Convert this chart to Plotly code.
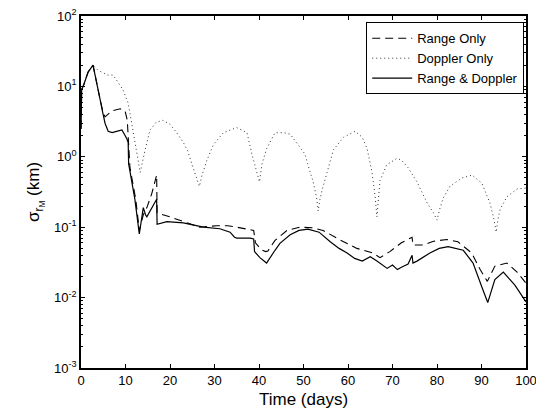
import plotly.graph_objects as go

# ---- data ----
rd_days = [0, 0.15, 0.6, 1.6, 2.7, 3.6, 4.3, 4.9, 5.4, 6.1, 7, 8, 9.2, 10.3, 10.6, 10.7, 11.4, 12.1,
           13.1, 14.0, 14.5, 14.8, 17.0, 17.1, 19.3, 23, 27.5, 31.2, 33.5, 34.5, 35, 38, 38.8, 39.0,
           40.2, 41.7, 43.6, 44.7, 47, 49, 51, 53.5, 56, 58, 59.8, 61.5, 63.2, 65, 66.5, 68.8, 70.0,
           70.6, 71.1, 72, 73.5, 74.4, 74.6, 75.5, 78.4, 80.5, 82.5, 85.9, 88.1, 90.1, 91.4, 93, 94.9,
           97.5, 100]
rd_vals = [2.5, 9, 10.5, 16, 20, 10, 6.5, 4.2, 3, 2.3, 2.2, 2.3, 2.4, 1.8, 1.6, 0.8, 0.47, 0.25,
           0.08, 0.19, 0.15, 0.14, 0.25, 0.11, 0.12, 0.115, 0.1, 0.095, 0.085, 0.072, 0.07, 0.07, 0.068, 0.045,
           0.037, 0.031, 0.047, 0.059, 0.078, 0.09, 0.094, 0.085, 0.062, 0.05, 0.043, 0.036, 0.033, 0.038, 0.033, 0.026, 0.029,
           0.027, 0.025, 0.027, 0.03, 0.04, 0.031, 0.033, 0.043, 0.05, 0.053, 0.047, 0.031, 0.014, 0.0085, 0.018, 0.023,
           0.015, 0.0087]

r_days = [0, 0.15, 0.6, 1.6, 2.7, 3.6, 4.3, 4.9, 5.4, 7, 8.8, 9.9, 10.4, 11.0, 11.6, 12.3, 13.1, 14.0,
          14.8, 15.9, 17.0, 17.1, 20, 23, 26.7, 30.5, 33, 35, 38, 38.8, 39.2, 40.5, 41.5, 42, 43.6, 46.3,
          49.2, 52, 54.4, 58.2, 62, 65.6, 67.2, 69.4, 72, 74.4, 74.6, 76.9, 79.2, 82.2, 84.7, 87.8, 89.7,
          91.3, 93, 95.7, 98, 100]
r_vals = [2.5, 9, 10.5, 16, 20, 10, 6.5, 4.4, 3.7, 4.5, 4.8, 4.5, 3.3, 0.7, 0.45, 0.25, 0.09, 0.15,
          0.19, 0.3, 0.55, 0.16, 0.14, 0.12, 0.1, 0.105, 0.105, 0.1, 0.092, 0.09, 0.06, 0.048, 0.045, 0.046, 0.065, 0.09,
          0.1, 0.098, 0.09, 0.066, 0.05, 0.043, 0.037, 0.045, 0.06, 0.072, 0.056, 0.056, 0.063, 0.067, 0.062, 0.043, 0.025,
          0.017, 0.028, 0.031, 0.023, 0.016]

d_days = [0, 0.15, 0.6, 1.6, 2.7, 3.8, 6, 7.2, 8.3, 9.4, 10.6, 11.7, 12.4, 13.3, 14.4, 15.5, 16.9, 18.4,
          20, 21.5, 23, 24, 25.2, 26, 26.6, 27.2, 28.3, 29.8, 32, 35, 37.3, 38.4, 39.5, 40.1, 40.7, 41.7,
          43.6, 45.5, 47, 49, 50.3, 51.5, 52.2, 53, 53.3, 53.7, 54.2, 55.3, 56.7, 59, 61.6, 63.2, 64.3,
          65.4, 66.1, 66.5, 66.9, 67.2, 68.7, 71, 72, 73.5, 75.5, 77.8, 79.2, 80, 80.6, 81.4, 82.9, 85.6,
          87.9, 90.1, 91.9, 92.8, 93.3, 93.7, 94.2, 95.7, 98, 100]
d_vals = [2.5, 9, 10.5, 16, 20, 17, 14.5, 14.5, 11.5, 9, 5.8, 2.4, 1.25, 0.6, 1.25, 2.4, 3.1, 3.3,
          2.9, 2.2, 1.6, 1.2, 0.7, 0.5, 0.38, 0.55, 0.9, 1.5, 2.2, 2.6, 2.2, 1.1, 0.6, 0.44, 0.8, 1.3,
          2.2, 2.2, 2.1, 1.4, 1.1, 0.6, 0.44, 0.25, 0.17, 0.25, 0.34, 0.6, 1.25, 1.9, 2.3, 1.9, 1.3,
          0.6, 0.27, 0.14, 0.3, 0.46, 0.77, 0.95, 0.9, 0.7, 0.44, 0.22, 0.16, 0.126, 0.18, 0.26, 0.38, 0.5,
          0.55, 0.42, 0.22, 0.13, 0.085, 0.13, 0.18, 0.27, 0.35, 0.36]

x_ticks = [0, 10, 20, 30, 40, 50, 60, 70, 80, 90, 100]
y_ticks = [1e-3, 1e-2, 1e-1, 1e0, 1e1, 1e2]
y_ticktext = ["10<sup>-3</sup>", "10<sup>-2</sup>", "10<sup>-1</sup>", "10<sup>0</sup>",
              "10<sup>1</sup>", "10<sup>2</sup>"]
names = ["Range Only", "Doppler Only", "Range & Doppler"]

FONT = "Liberation Sans, Arial, Helvetica, sans-serif"

fig = go.Figure()
fig.add_trace(go.Scatter(x=r_days, y=r_vals, mode="lines", name=names[0],
                         line=dict(color="black", width=1.1, dash="8px,5px")))
fig.add_trace(go.Scatter(x=d_days, y=d_vals, mode="lines", name=names[1],
                         line=dict(color="#333", width=1, dash="1px,3px")))
fig.add_trace(go.Scatter(x=rd_days, y=rd_vals, mode="lines", name=names[2],
                         line=dict(color="black", width=1.2)))

axis_common = dict(showgrid=False, zeroline=False, showline=True, linecolor="black",
                   linewidth=1.5, mirror="ticks", ticks="inside", tickcolor="black",
                   automargin=False, ticklabeloverflow="allow",
                   tickfont=dict(family=FONT, size=13, color="black"))

fig.update_xaxes(range=[0, 100], tickvals=x_ticks, ticklen=4,
                 title=dict(text="Time (days)", font=dict(family=FONT, size=17, color="black"),
                            standoff=6),
                 **axis_common)
fig.update_yaxes(type="log", range=[-3, 2], tickvals=y_ticks, ticktext=y_ticktext, ticklen=4,
                 minor=dict(ticks="inside", ticklen=2, tickcolor="black", showgrid=False, dtick="D1"),
                 title=dict(text="σ<sub>r<sub>M</sub></sub> (km)",
                            font=dict(family=FONT, size=17, color="black"), standoff=10),
                 **axis_common)

fig.update_layout(
    width=536, height=410,
    margin=dict(l=81, r=10, t=16, b=42),
    paper_bgcolor="white", plot_bgcolor="white",
    showlegend=True,
    legend=dict(x=0.996, y=0.982, xanchor="right", yanchor="top",
                bordercolor="black", borderwidth=1, bgcolor="white",
                font=dict(family=FONT, size=13, color="black"),
                tracegroupgap=0, itemwidth=40),
)

fig.write_html("out.html")
